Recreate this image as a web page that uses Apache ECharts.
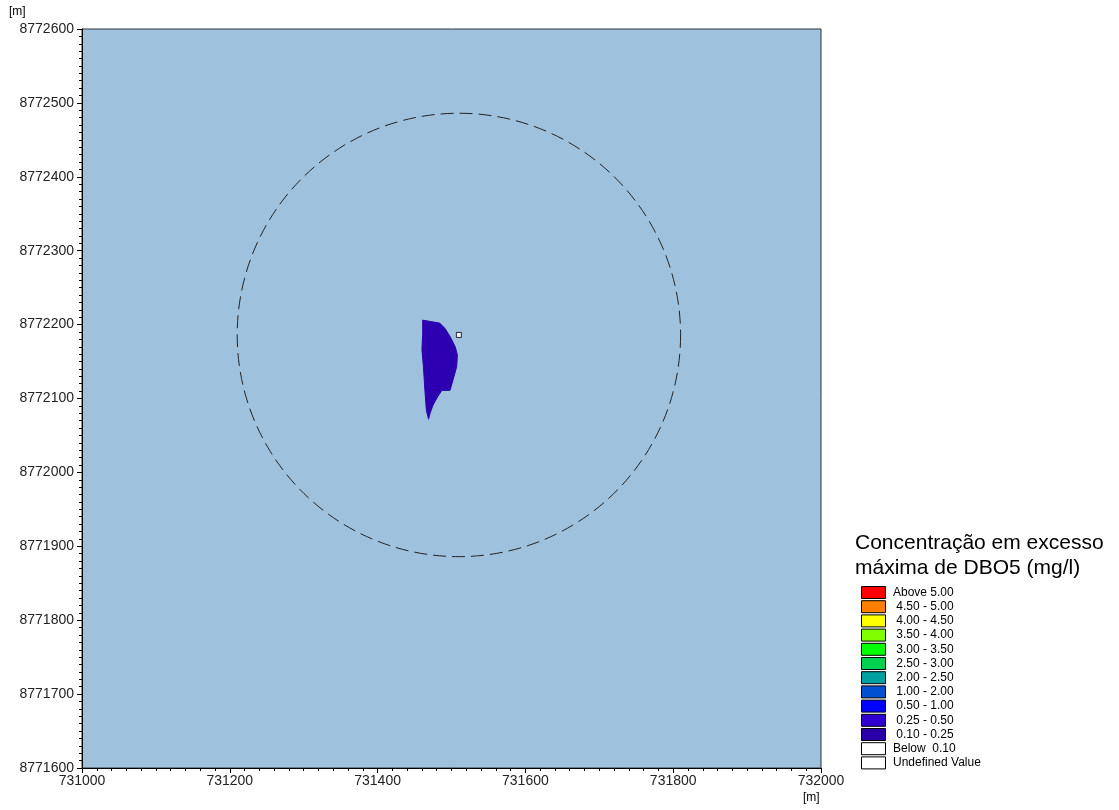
<!DOCTYPE html>
<html><head><meta charset="utf-8">
<script src="https://cdn.jsdelivr.net/npm/echarts@6/dist/echarts.min.js"></script>
<style>html,body{margin:0;padding:0;background:#fff}#c{width:1119px;height:810px}</style>
</head><body><div id="c"></div>
<script>
// ---- data ----
const plumeX = [731461,731473,731484,731491,731498,731505,731508,731507,731502,731498,731487,731481,731475,731471,731469,731466,731464,731462,731460,731461];
const plumeY = [8772206,8772204,8772202,8772195,8772184,8772170,8772159,8772143,8772125,8772111,8772111,8772102,8772091,8772080,8772072,8772084,8772111,8772143,8772166,8772188];
const sourcePoint = [731510, 8772186];
const circleCenter = [731510, 8772186];
const circleRadius = 300; // metres
const legendTitle = ['Concentração em excesso', 'máxima de DBO5 (mg/l)'];
const legendLabels = ['Above 5.00',' 4.50 - 5.00',' 4.00 - 4.50',' 3.50 - 4.00',' 3.00 - 3.50',' 2.50 - 3.00',' 2.00 - 2.50',' 1.00 - 2.00',' 0.50 - 1.00',' 0.25 - 0.50',' 0.10 - 0.25','Below  0.10','Undefined Value'];
const legendColors = ['#ff0000','#ff8000','#ffff00','#80ff00','#00ff00','#00d050','#00a0a0','#0050d0','#0000ff','#3000d0','#2a00a8','#ffffff','#ffffff'];
const xRange = [731000, 732000];
const yRange = [8771600, 8772600];

const plumeColor = '#2c00b0';
const chart = echarts.init(document.getElementById('c'), null, {renderer:'canvas'});

const graphics = [];
graphics.push({type:'text', left:855, top:533, style:{text:legendTitle[0], font:'21px "Liberation Sans", Arial', fill:'#000'}});
graphics.push({type:'text', left:855, top:558, style:{text:legendTitle[1], font:'21px "Liberation Sans", Arial', fill:'#000'}});
legendLabels.forEach((lab, i) => {
  const y = 586 + i * 14.2;
  graphics.push({type:'rect', shape:{x:861.5, y:y+0.5, width:24, height:12}, style:{fill:legendColors[i], stroke:'#000', lineWidth:1}});
  graphics.push({type:'text', x:893, y:y+6.5, style:{text:lab, font:'12px "Liberation Sans", Arial', fill:'#000', verticalAlign:'middle'}});
});
graphics.push({type:'text', left:9, top:6, style:{text:'[m]', font:'12px "Liberation Sans", Arial', fill:'#000'}});
graphics.push({type:'text', left:803, top:792, style:{text:'[m]', font:'12px "Liberation Sans", Arial', fill:'#000'}});

const fmt = v => String(v);
chart.setOption({
  animation:false,
  grid:{left:82, right:298, top:29, bottom:42, show:true, backgroundColor:'#9ec2de', borderColor:'#333', borderWidth:1},
  xAxis:{type:'value', min:xRange[0], max:xRange[1], interval:200,
    axisLine:{show:true, onZero:false, lineStyle:{color:'#000'}},
    axisTick:{show:true, inside:false, length:5, lineStyle:{color:'#000'}},
    minorTick:{show:true, splitNumber:10, length:3, lineStyle:{color:'#000'}},
    splitLine:{show:false},
    axisLabel:{color:'#222', fontSize:14, fontFamily:'"Liberation Sans", Arial', margin:6, formatter:fmt}},
  yAxis:{type:'value', min:yRange[0], max:yRange[1], interval:100,
    axisLine:{show:true, onZero:false, lineStyle:{color:'#000'}},
    axisTick:{show:true, inside:false, length:5, lineStyle:{color:'#000'}},
    minorTick:{show:true, splitNumber:10, length:3, lineStyle:{color:'#000'}},
    splitLine:{show:false},
    axisLabel:{color:'#222', fontSize:14, fontFamily:'"Liberation Sans", Arial', margin:8, formatter:fmt}},
  graphic: graphics,
  series:[
    {type:'custom', coordinateSystem:'cartesian2d', data:[0],
     renderItem:function(params, api){
       const pts = plumeX.map((x,i)=>api.coord([x, plumeY[i]]));
       return {type:'polygon', shape:{points:pts}, style:{fill:plumeColor, stroke:plumeColor, lineWidth:1}};
     }},
    {type:'custom', coordinateSystem:'cartesian2d', data:[circleCenter],
     renderItem:function(params, api){
       const c = api.coord([api.value(0), api.value(1)]);
       const r = api.size([circleRadius, 0])[0];
       return {type:'circle', shape:{cx:c[0], cy:c[1], r:r}, style:{fill:null, stroke:'#222', lineWidth:1, lineDash:[13,6]}};
     }},
    {type:'scatter', data:[sourcePoint], symbol:'rect', symbolSize:5,
     itemStyle:{color:'#fff', borderColor:'#000', borderWidth:1}, z:5}
  ]
});
</script></body></html>
